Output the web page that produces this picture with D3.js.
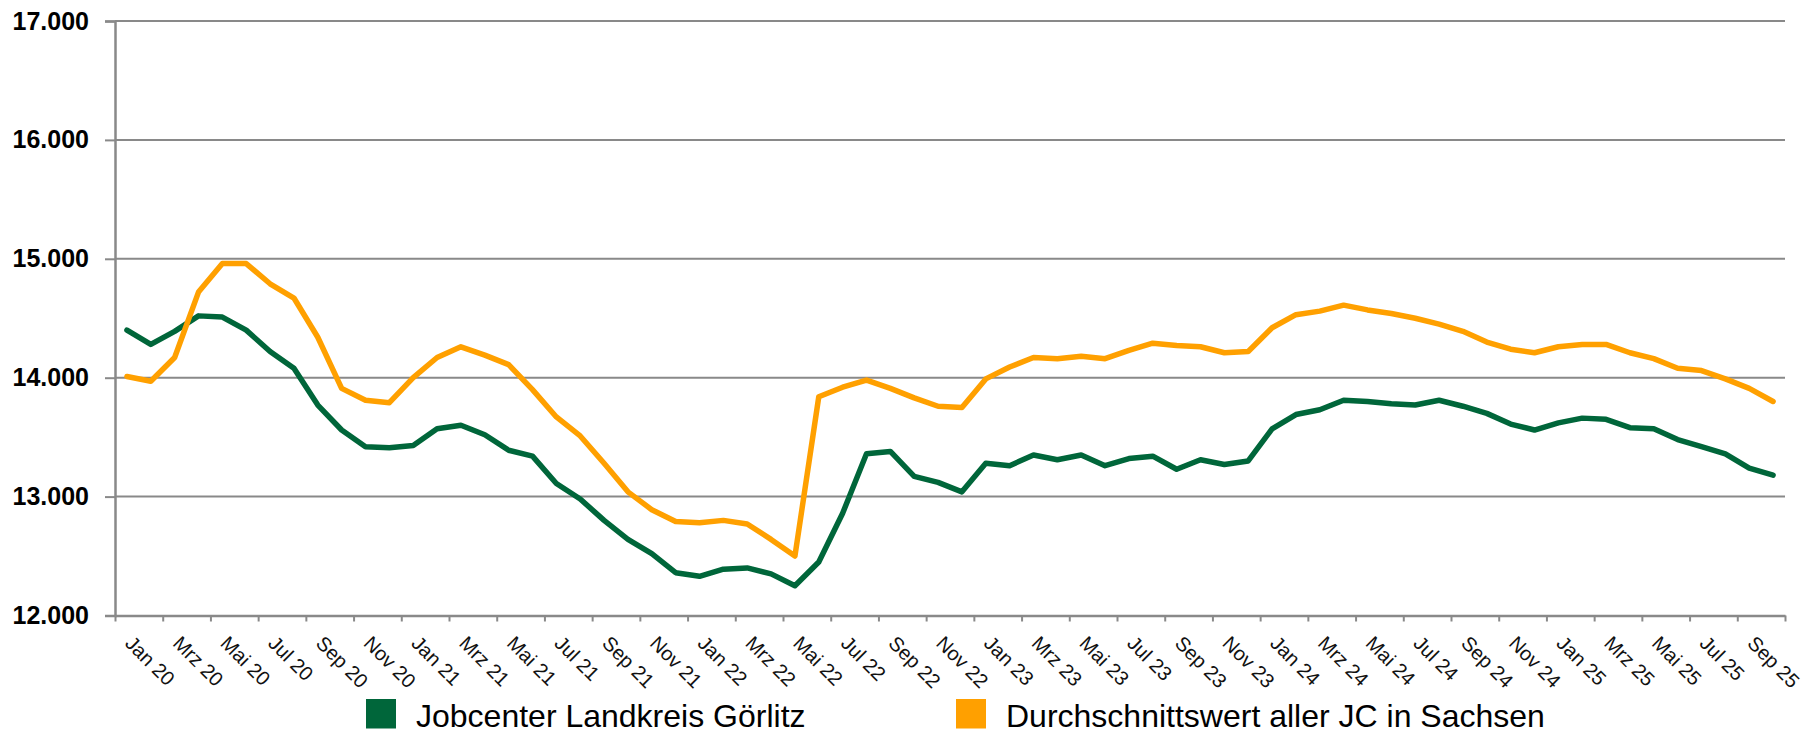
<!DOCTYPE html>
<html>
<head>
<meta charset="utf-8">
<script src="https://cdn.jsdelivr.net/npm/d3@7"></script>
<style>
  html, body { margin: 0; padding: 0; background: #ffffff; }
  svg { display: block; font-family: "Liberation Sans", Arial, sans-serif; }
</style>
</head>
<body>
<svg id="chart" width="1818" height="734"></svg>
<script>
// ---- data ----
const monthNames = ["Jan","Feb","Mrz","Apr","Mai","Jun","Jul","Aug","Sep","Okt","Nov","Dez"];
const years = ["20","21","22","23","24","25"];
const categories = [];
years.forEach(y => monthNames.forEach(m => categories.push(m + " " + y)));
categories.splice(70); // Jan 20 ... Okt 25

const goerlitz = [
  14400, 14280, 14390, 14520, 14510, 14400, 14220, 14080, 13770, 13560, 13420, 13410,
  13430, 13570, 13600, 13520, 13390, 13340, 13110, 12980, 12800, 12640, 12520, 12360,
  12330, 12390, 12400, 12350, 12250, 12450, 12860, 13360, 13380, 13170, 13120, 13040,
  13280, 13260, 13350, 13310, 13350, 13260, 13320, 13340, 13230, 13310, 13270, 13300,
  13570, 13690, 13730, 13810, 13800, 13780, 13770, 13810, 13760, 13700, 13610, 13560,
  13620, 13660, 13650, 13580, 13570, 13480, 13420, 13360, 13240, 13180
];
const sachsen = [
  14010, 13970, 14170, 14720, 14960, 14960, 14790, 14670, 14340, 13910, 13810, 13790,
  14000, 14170, 14260, 14190, 14110, 13900, 13670, 13510, 13280, 13040, 12890, 12790,
  12780, 12800, 12770, 12640, 12500, 13840, 13920, 13980, 13910, 13830, 13760, 13750,
  13990, 14090, 14170, 14160, 14180, 14160, 14230, 14290, 14270, 14260, 14210, 14220,
  14420, 14530, 14560, 14610, 14570, 14540, 14500, 14450, 14390, 14300, 14240, 14210,
  14260, 14280, 14280, 14210, 14160, 14080, 14060, 13990, 13910, 13800
];
const yTicks = [12000, 13000, 14000, 15000, 16000, 17000];
const xTickLabels = categories.filter((c, i) => i % 2 === 0);
const seriesNames = ["Jobcenter Landkreis Görlitz", "Durchschnittswert aller JC in Sachsen"];
const seriesColors = ["#00663A", "#FFA000"];

// ---- layout ----
const svg = d3.select("#chart");
const plotLeft = 115, plotRight = 1785, plotTop = 21, plotBottom = 615.5;
const gridColor = "#898989";

const x = d3.scaleBand().domain(categories).range([plotLeft, plotRight]).padding(0);
const xIdx = d3.scaleLinear().domain([0, categories.length]).range([plotLeft, plotRight]);
const y = d3.scaleLinear().domain([12000, 17000]).range([plotBottom, plotTop]);
const de = d3.formatLocale({decimal: ",", thousands: ".", grouping: [3], currency: ["", " €"]});
const fmt = de.format(",");

// gridlines
svg.append("g").selectAll("line").data(yTicks.slice(1)).join("line")
  .attr("x1", plotLeft).attr("x2", plotRight)
  .attr("y1", d => y(d)).attr("y2", d => y(d))
  .attr("stroke", gridColor).attr("stroke-width", 2);

// y axis
const yAxis = svg.append("g").attr("transform", `translate(${plotLeft},0)`)
  .call(d3.axisLeft(y).tickValues(yTicks).tickSize(10).tickPadding(16).tickFormat(fmt));
yAxis.select(".domain").attr("stroke", gridColor).attr("stroke-width", 2.5);
yAxis.selectAll(".tick line").attr("stroke", gridColor).attr("stroke-width", 2);
yAxis.selectAll("text").attr("font-size", 25).attr("font-weight", "bold").attr("fill", "#000")
  .attr("font-family", "'Liberation Sans', Arial, sans-serif");

// x axis ticks (boundaries every 2 months)
const xAxis = svg.append("g").attr("transform", `translate(0,${plotBottom})`)
  .call(d3.axisBottom(xIdx).tickValues(d3.range(0, categories.length + 1, 2)).tickSize(6).tickSizeOuter(0).tickFormat(""));
xAxis.select(".domain").attr("stroke", gridColor).attr("stroke-width", 2.5);
xAxis.selectAll(".tick line").attr("stroke", gridColor).attr("stroke-width", 2);
xAxis.selectAll(".tick text").remove();

// x labels
svg.append("g").selectAll("text").data(xTickLabels).join("text")
  .attr("transform", d => `translate(${x(d) + x.bandwidth() / 2 - 3},${plotBottom + 29}) rotate(45)`)
  .attr("text-anchor", "start")
  .attr("font-size", 20)
  .attr("fill", "#111")
  .text(d => d);

// lines
const line = d3.line()
  .x((d, i) => x(categories[i]) + x.bandwidth() / 2)
  .y(d => y(d));
[goerlitz, sachsen].forEach((s, k) => {
  svg.append("path").datum(s)
    .attr("d", line)
    .attr("fill", "none")
    .attr("stroke", seriesColors[k])
    .attr("stroke-width", 5.5)
    .attr("stroke-linejoin", "round")
    .attr("stroke-linecap", "round");
});

// legend
const legendPos = [366, 956];
const legend = svg.append("g");
seriesNames.forEach((name, k) => {
  legend.append("rect")
    .attr("x", legendPos[k]).attr("y", 699)
    .attr("width", 30).attr("height", 29.5)
    .attr("fill", seriesColors[k]);
  legend.append("text")
    .attr("x", legendPos[k] + 50).attr("y", 727)
    .attr("font-size", 32).attr("fill", "#000")
    .text(name);
});
</script>
</body>
</html>
